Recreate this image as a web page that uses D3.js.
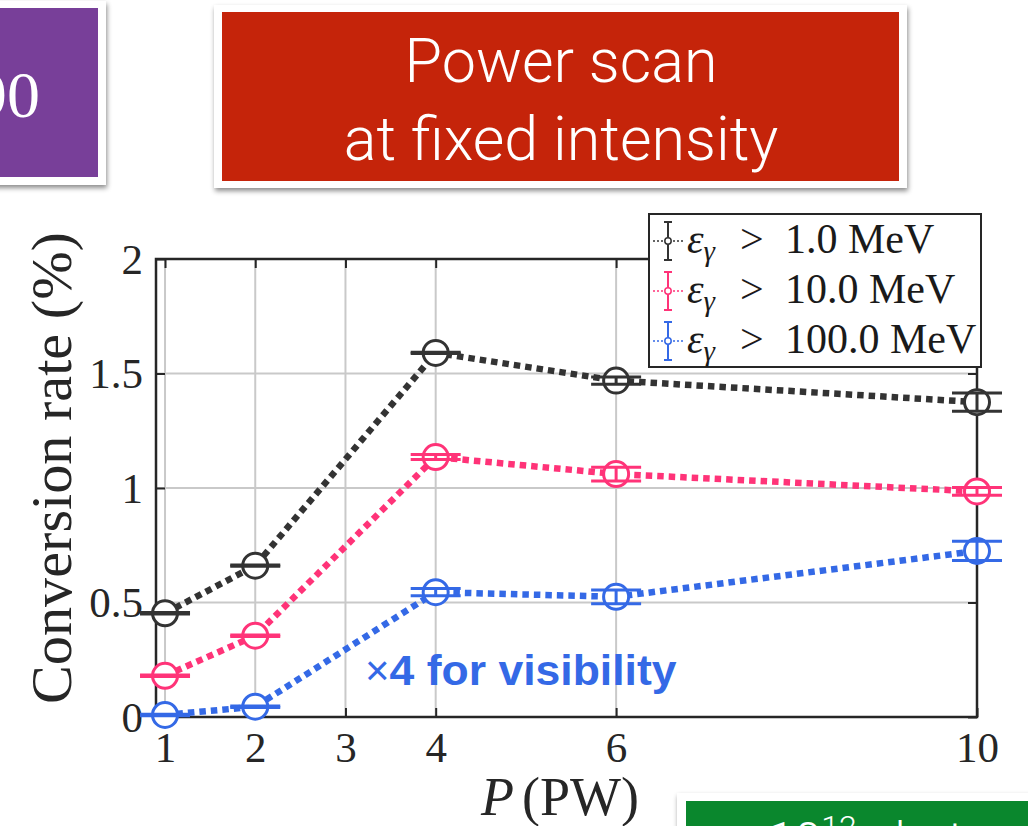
<!DOCTYPE html>
<html><head><meta charset="utf-8">
<script src="https://cdn.jsdelivr.net/npm/d3@7"></script>
<style>body{margin:0;background:#fff;overflow:hidden}svg{display:block}</style>
</head><body>
<svg id="chart" width="1028" height="826"></svg>
<script>
// ---- data ----
const powers   = [1, 2, 4, 6, 10];
const rate1    = [0.453, 0.661, 1.59, 1.469, 1.375];
const rate10   = [0.18, 0.355, 1.135, 1.061, 0.985];
const rate100  = [0.009, 0.045, 0.545, 0.525, 0.725];
const err1     = [0.003, 0.003, 0.003, 0.016, 0.04];
const err10    = [0.003, 0.003, 0.011, 0.03, 0.017];
const err100   = [0.003, 0.003, 0.016, 0.03, 0.042];
const seriesThresholds = ["1.0", "10.0", "100.0"];
const xTicks = [1, 2, 3, 4, 6, 10];
const yTicks = [0, 0.5, 1, 1.5, 2];
const yTickLabels = ["0", "0.5", "1", "1.5", "2"];

const colors = ["#333333", "#ff3378", "#3469e6"];
const series = [rate1, rate10, rate100].map((r, i) => ({
  values: powers.map((p, j) => ({x: p, y: r[j], e: [err1, err10, err100][i][j]})),
  color: colors[i], label: seriesThresholds[i]
}));

const svg = d3.select("#chart");
const defs = svg.append("defs");
const f = defs.append("filter").attr("id", "sh").attr("x", "-10%").attr("y", "-10%").attr("width", "130%").attr("height", "140%");
f.append("feDropShadow").attr("dx", 1).attr("dy", 3).attr("stdDeviation", 2.5).attr("flood-color", "#000").attr("flood-opacity", 0.45);

// ---- slide boxes ----
svg.append("rect").attr("x", -20).attr("y", 1).attr("width", 126).attr("height", 184).attr("fill", "#fff").attr("filter", "url(#sh)");
svg.append("rect").attr("x", -20).attr("y", 8).attr("width", 118).attr("height", 169).attr("fill", "#783f99");
svg.append("text").attr("x", 40).attr("y", 117).attr("text-anchor", "end")
  .attr("font-family", "Liberation Serif, serif").attr("font-size", 66).attr("fill", "#fff").text("90");

svg.append("rect").attr("x", 214).attr("y", 5).attr("width", 693).attr("height", 183).attr("fill", "#fff").attr("filter", "url(#sh)");
svg.append("rect").attr("x", 222).attr("y", 12).attr("width", 677).attr("height", 169).attr("fill", "#c5240a");
svg.append("text").attr("x", 561).attr("y", 82).attr("text-anchor", "middle")
  .attr("font-family", "Roboto, sans-serif").attr("font-weight", 300).attr("font-size", 61).attr("fill", "#fff").text("Power scan");
svg.append("text").attr("x", 561).attr("y", 160).attr("text-anchor", "middle")
  .attr("font-family", "Roboto, sans-serif").attr("font-weight", 300).attr("font-size", 61).attr("fill", "#fff").text("at fixed intensity");

svg.append("rect").attr("x", 677).attr("y", 793).attr("width", 380).attr("height", 60).attr("fill", "#fff").attr("filter", "url(#sh)");
svg.append("rect").attr("x", 686).attr("y", 801).attr("width", 360).attr("height", 40).attr("fill", "#0a872d");
const gt = svg.append("text").attr("x", 768).attr("y", 856)
  .attr("font-family", "Roboto, sans-serif").attr("font-weight", 300).attr("font-size", 48).attr("fill", "#fff");
gt.append("tspan").text("10");
gt.append("tspan").attr("dy", -18).attr("font-size", 32).text("12");
gt.append("tspan").attr("dy", 18).text(" photons");

// ---- chart ----
const L = 156, R = 977, T = 259, B = 717;
const x = d3.scaleLinear().domain([0.9, 10]).range([L, R]);
const y = d3.scaleLinear().domain([0, 2]).range([B, T]);

const grid = svg.append("g");
grid.selectAll("line.gx").data(xTicks).join("line")
  .attr("x1", d => x(d)).attr("x2", d => x(d)).attr("y1", T).attr("y2", B)
  .attr("stroke", "#c9c9c9").attr("stroke-width", 2);
grid.selectAll("line.gy").data(yTicks).join("line")
  .attr("x1", L).attr("x2", R).attr("y1", d => y(d)).attr("y2", d => y(d))
  .attr("stroke", "#c9c9c9").attr("stroke-width", 2);

const axStyle = g => {
  g.select(".domain").remove();
  g.selectAll(".tick line").attr("stroke", "#262626").attr("stroke-width", 2);
  g.selectAll(".tick text").attr("font-family", "Liberation Serif, serif").attr("font-size", 43).attr("fill", "#262626");
};
svg.append("g").attr("transform", `translate(0,${B})`)
  .call(d3.axisBottom(x).tickValues(xTicks).tickSize(-9).tickPadding(14).tickFormat(d3.format("d")))
  .call(axStyle).call(g => g.selectAll(".tick text").attr("dy", "0.71em"));
svg.append("g").attr("transform", `translate(0,${T})`)
  .call(d3.axisTop(x).tickValues(xTicks).tickSize(-9).tickFormat(""))
  .call(axStyle);
svg.append("g").attr("transform", `translate(${L},0)`)
  .call(d3.axisLeft(y).tickValues(yTicks).tickSize(-9).tickPadding(13).tickFormat((d, i) => yTickLabels[i]))
  .call(axStyle).call(g => g.selectAll(".tick text").attr("dy", "0.33em"));
svg.append("g").attr("transform", `translate(${R},0)`)
  .call(d3.axisRight(y).tickValues(yTicks).tickSize(-9).tickFormat(""))
  .call(axStyle);

svg.append("rect").attr("x", L).attr("y", T).attr("width", R - L).attr("height", B - T)
  .attr("fill", "none").attr("stroke", "#262626").attr("stroke-width", 2.5);

// axis labels
svg.append("text").attr("transform", `translate(71,468) rotate(-90)`).attr("text-anchor", "middle")
  .attr("font-family", "Liberation Serif, serif").attr("font-size", 56).attr("fill", "#262626")
  .attr("textLength", 472).attr("lengthAdjust", "spacingAndGlyphs").text("Conversion rate (%)");
const xl = svg.append("text").attr("x", 481).attr("y", 815)
  .attr("font-family", "Liberation Serif, serif").attr("font-size", 54).attr("fill", "#262626");
xl.append("tspan").attr("font-style", "italic").text("P");
xl.append("tspan").attr("dx", 8).text("(PW)");

// note text
const note = svg.append("text").attr("x", 365).attr("y", 685)
  .attr("font-family", "Liberation Sans, Arial, sans-serif").attr("font-size", 42).attr("fill", "#3469e6");
note.append("tspan").attr("font-weight", 400).text("×");
note.append("tspan").attr("font-weight", 700).attr("textLength", 287).attr("lengthAdjust", "spacingAndGlyphs").text("4 for visibility");

// series
const line = d3.line().x(d => x(d.x)).y(d => y(d.y));
series.forEach(s => {
  const g = svg.append("g");
  g.append("path").attr("d", line(s.values)).attr("fill", "none").attr("stroke", s.color)
    .attr("stroke-width", 6.5).attr("stroke-dasharray", "6.5,5");
  g.selectAll("circle").data(s.values).join("circle")
    .attr("cx", d => x(d.x)).attr("cy", d => y(d.y)).attr("r", 12.5)
    .attr("fill", "#fff").attr("stroke", s.color).attr("stroke-width", 3);
  const eb = g.selectAll("g.eb").data(s.values).join("g");
  eb.append("line").attr("x1", d => x(d.x)).attr("x2", d => x(d.x))
    .attr("y1", d => y(d.y - d.e)).attr("y2", d => y(d.y + d.e)).attr("stroke", s.color).attr("stroke-width", 3);
  [-1, 1].forEach(sg => {
    eb.append("line").attr("x1", d => x(d.x) - 25).attr("x2", d => x(d.x) + 25)
      .attr("y1", d => y(d.y + sg * d.e)).attr("y2", d => y(d.y + sg * d.e))
      .attr("stroke", s.color).attr("stroke-width", 3);
  });
});

// legend
const lg = svg.append("g");
lg.append("rect").attr("x", 649).attr("y", 214).attr("width", 332).attr("height", 153)
  .attr("fill", "#fff").attr("stroke", "#262626").attr("stroke-width", 2);
series.forEach((s, i) => {
  const cy = 241 + i * 50;
  lg.append("line").attr("x1", 653).attr("x2", 684).attr("y1", cy).attr("y2", cy)
    .attr("stroke", s.color).attr("stroke-width", 1.5).attr("stroke-dasharray", "2,2");
  lg.append("line").attr("x1", 668).attr("x2", 668).attr("y1", cy - 19).attr("y2", cy + 19)
    .attr("stroke", s.color).attr("stroke-width", 2);
  [-19, 19].forEach(o => lg.append("line").attr("x1", 664).attr("x2", 672).attr("y1", cy + o).attr("y2", cy + o)
    .attr("stroke", s.color).attr("stroke-width", 2));
  lg.append("circle").attr("cx", 668).attr("cy", cy).attr("r", 3.2).attr("fill", "#fff")
    .attr("stroke", s.color).attr("stroke-width", 1.5);
  const t = lg.append("text").attr("x", 687).attr("y", cy + 12)
    .attr("font-family", "Liberation Serif, serif").attr("font-size", 42).attr("fill", "#1a1a1a");
  t.append("tspan").attr("font-style", "italic").text("ε");
  t.append("tspan").attr("font-style", "italic").attr("font-size", 29).attr("dy", 8).text("γ");
  t.append("tspan").attr("x", 740).attr("dy", -8).text(">");
  t.append("tspan").attr("x", 785).text(s.label + " MeV");
});
</script>
</body></html>
